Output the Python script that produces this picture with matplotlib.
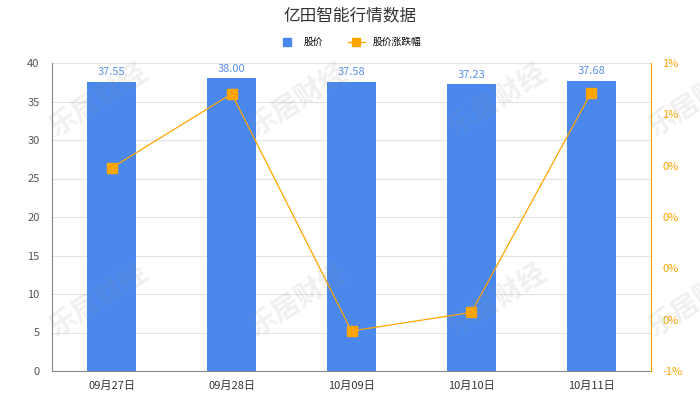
import matplotlib
matplotlib.use("Agg")
import matplotlib.pyplot as plt
from matplotlib.lines import Line2D
from matplotlib.patches import Patch

plt.rcParams['font.family'] = ['Noto Sans CJK SC', 'DejaVu Sans']

categories = ["09月27日", "09月28日", "10月09日", "10月10日", "10月11日"]
prices = [37.55, 38.00, 37.58, 37.23, 37.68]
price_labels = ["37.55", "38.00", "37.58", "37.23", "37.68"]
pct_change = [0.48, 1.20, -1.11, -0.93, 1.21]
left_ticks = [0, 5, 10, 15, 20, 25, 30, 35, 40]
right_ticks = [-1.5, -1.0, -0.5, 0.0, 0.5, 1.0, 1.5]
right_tick_labels = ["-1%", "0%", "0%", "0%", "0%", "1%", "1%"]

BAR = "#4A88EE"
ORANGE = "#FFA500"

fig = plt.figure(figsize=(7, 4), dpi=100)
ax = fig.add_axes([52/700, 1-371/400, (651-52)/700, (371-63)/400])
x = list(range(len(categories)))

ax.bar(x, prices, width=0.41, color=BAR, zorder=2)
for xi, v, lab in zip(x, prices, price_labels):
    ax.text(xi, v + 0.6, lab, ha="center", va="bottom", color="#5B8FE8", fontsize=8)

ax.set_ylim(0, 40)
ax.set_xlim(-0.5, len(categories) - 0.5)
ax.set_yticks(left_ticks)
ax.set_yticklabels([str(t) for t in left_ticks])
ax.set_xticks(x)
ax.set_xticklabels(categories)
ax.tick_params(axis="y", length=0, pad=9, labelsize=8, labelcolor="#555555")
ax.tick_params(axis="x", length=0, pad=7, labelsize=8, labelcolor="#333333")
ax.grid(axis="y", color="#e3e3e3", linewidth=0.8, zorder=0)
ax.set_axisbelow(True)
for s in ["top", "right"]:
    ax.spines[s].set_visible(False)
ax.spines["left"].set_color("#888888")
ax.spines["bottom"].set_color("#888888")

ax2 = ax.twinx()
ax2.plot(x, pct_change, color=ORANGE, linewidth=0.9, marker="s", markersize=7,
         markerfacecolor=ORANGE, markeredgecolor=ORANGE, zorder=3)
ax2.set_ylim(-1.5, 1.5)
ax2.set_yticks(right_ticks)
ax2.set_yticklabels(right_tick_labels)
ax2.tick_params(axis="y", length=0, pad=8, labelsize=8, labelcolor=ORANGE)
for s in ["top", "left", "bottom"]:
    ax2.spines[s].set_visible(False)
ax2.spines["right"].set_color(ORANGE)

fig.text(0.5, 1-17/400, "亿田智能行情数据", ha="center", va="center", fontsize=12, color="#333333")

handles = [
    Line2D([0], [0], marker="s", linestyle="none", markersize=6, markerfacecolor=BAR, markeredgecolor=BAR),
    Line2D([0], [0], marker="s", color=ORANGE, linewidth=1, markersize=6, markerfacecolor=ORANGE),
]
fig.legend(handles, ["股价", "股价涨跌幅"], loc="center", bbox_to_anchor=(0.5, 1-42/400), ncol=2,
           frameon=False, fontsize=7, handlelength=1.8, columnspacing=2.5, handletextpad=0.8)

for wx in [98, 298, 497, 697]:
    for wy in [100, 300]:
        fig.text(wx/700, 1-wy/400, "乐居财经", ha="center", va="center", rotation=33,
                 fontsize=20, fontweight="bold", color="#888888", alpha=0.13, zorder=10)

fig.savefig("out.png", dpi=100)
